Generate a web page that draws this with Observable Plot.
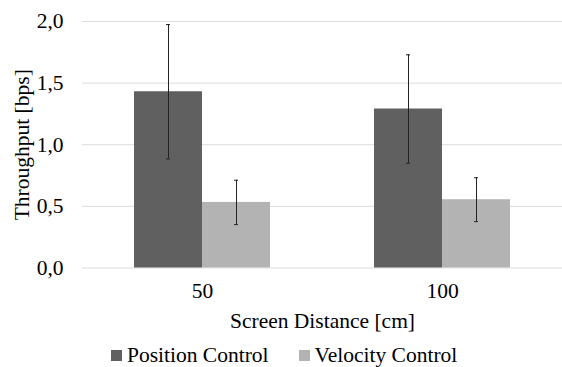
<!DOCTYPE html>
<html>
<head>
<meta charset="utf-8">
<script src="https://cdn.jsdelivr.net/npm/d3@7"></script>
<script src="https://cdn.jsdelivr.net/npm/@observablehq/plot@0.6"></script>
<style>
  html, body { margin: 0; padding: 0; background: #fff; }
  #wrap { position: relative; width: 562px; height: 367px; font-family: "Liberation Serif", "Times New Roman", serif; }
  #legend { position: absolute; left: 111px; top: 345px; display: flex; align-items: center; font-size: 21.5px; line-height: 1; color: #000; }
  .item { display: flex; align-items: center; margin-right: 30px; }
  .sw { width: 11px; height: 11px; margin-right: 5px; }
</style>
</head>
<body>
<div id="wrap"><div id="chart"></div><div id="legend"></div></div>
<script>
const distances = ["50", "100"];
const series = ["Position Control", "Velocity Control"];
const colors = ["#606060", "#b3b3b3"];
const positionMeans = [1.43, 1.29];
const positionErrors = [0.545, 0.44];
const velocityMeans = [0.532, 0.554];
const velocityErrors = [0.18, 0.178];
const yTicks = [0, 0.5, 1, 1.5, 2];

const data = [];
distances.forEach((d, i) => {
  data.push({distance: d, series: series[0], mean: positionMeans[i], err: positionErrors[i]});
  data.push({distance: d, series: series[1], mean: velocityMeans[i], err: velocityErrors[i]});
});
const fmt = v => v.toFixed(1).replace(".", ",");
const H = 340;
const plot = Plot.plot({
  width: 562,
  height: H,
  marginTop: 21,
  marginBottom: H - 267.5,
  marginLeft: 81,
  marginRight: 0,
  style: {fontFamily: "'Liberation Serif', 'Times New Roman', serif", fontSize: "21.5px", background: "#fff", color: "#000", overflow: "visible"},
  fx: {domain: distances, paddingInner: 0, paddingOuter: 0},
  x: {domain: series, paddingInner: 0, paddingOuter: 0.75, axis: null},
  y: {domain: [0, 2]},
  color: {domain: series, range: colors},
  marks: [
    Plot.gridY(yTicks, {stroke: "#dcdcdc", strokeOpacity: 1, strokeWidth: 1}),
    Plot.axisY(yTicks, {tickSize: 0, tickPadding: 19, tickFormat: fmt, label: "Throughput [bps]", labelArrow: "none", labelAnchor: "center", labelOffset: 69}),
    Plot.axisFx({anchor: "bottom", tickSize: 0, tickPadding: 15, label: "Screen Distance [cm]", labelArrow: "none", labelAnchor: "center", labelOffset: 59.5}),
    Plot.barY(data, {fx: "distance", x: "series", y: "mean", fill: "series"}),
    Plot.ruleX(data, {fx: "distance", x: "series", y1: d => d.mean - d.err, y2: d => d.mean + d.err, stroke: "#222", strokeWidth: 1}),
    Plot.tickY(data, {fx: "distance", x: "series", y: d => d.mean - d.err, stroke: "#222", insetLeft: 32, insetRight: 32}),
    Plot.tickY(data, {fx: "distance", x: "series", y: d => d.mean + d.err, stroke: "#222", insetLeft: 32, insetRight: 32})
  ]
});
document.getElementById("chart").appendChild(plot);
const legend = document.getElementById("legend");
series.forEach((s, i) => {
  const item = document.createElement("div");
  item.className = "item";
  const sw = document.createElement("span");
  sw.className = "sw";
  sw.style.background = colors[i];
  const t = document.createElement("span");
  t.textContent = s;
  item.appendChild(sw);
  item.appendChild(t);
  legend.appendChild(item);
});
</script>
</body>
</html>
